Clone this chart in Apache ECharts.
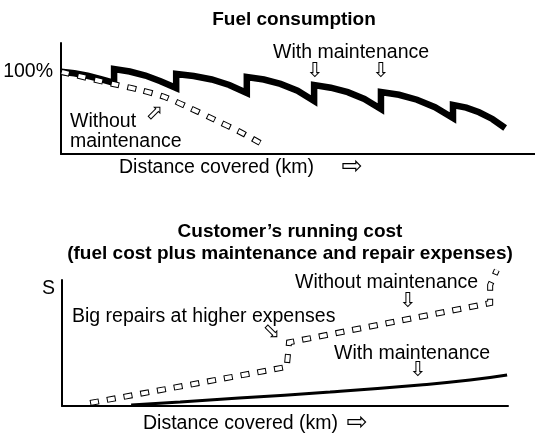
<!DOCTYPE html>
<html>
<head>
<meta charset="utf-8">
<style>
  html, body { margin: 0; padding: 0; background: #fff; }
  #chart { width: 535px; height: 433px; }
</style>
<script src="https://cdn.jsdelivr.net/npm/echarts@6/dist/echarts.min.js"></script>
</head>
<body>
<div id="chart"></div>
<script>
// Fuel consumption (% of new) against distance, with periodic maintenance:
// each service lifts efficiency back up, giving a sawtooth.
const fuelWithX = [
  0, 2.8, 5.6, 8.4, 11.2,
  11.2, 14.5, 17.8, 21.0, 24.3,
  24.3, 28.0, 31.8, 35.5, 39.2,
  39.2, 42.8, 46.3, 49.9, 53.4,
  53.4, 56.9, 60.5, 64.0, 67.5,
  67.5, 71.3, 75.1, 78.9, 82.7,
  82.7, 85.5, 88.2, 91.0, 93.7
];
const fuelWithY = [
  100, 98.2, 95.2, 91.2, 86.4,
  103.4, 100.3, 95.4, 88.6, 80.3,
  97.3, 94.8, 90.6, 84.0, 74.2,
  93.6, 90.6, 85.2, 77.0, 64.5,
  83.9, 80.6, 75.2, 67.0, 54.7,
  75.4, 72.0, 66.0, 57.0, 43.8,
  59.6, 56.4, 50.8, 42.6, 31.6
];

// Fuel consumption without maintenance: steady decline.
const fuelWithoutX = [0, 11.0, 16.7, 21.9, 27.2, 32.5, 37.8, 42.0];
const fuelWithoutY = [100, 85.1, 77.8, 69.3, 55.9, 41.4, 26.8, 13.4];

// Customer's running cost without maintenance, with the jumps for big repairs.
const costWithoutX = [6.3, 50.4, 50.9, 96.0, 96.0, 97.5];
const costWithoutY = [2.4, 31.0, 50.5, 81.7, 96.0, 108];

// Customer's running cost with maintenance.
const costWithX = [15.5, 26.5, 39.7, 60.1, 80.3, 91.5, 99.8];
const costWithY = [0.8, 3.2, 6.3, 11.1, 16.7, 20.6, 24.6];

// Tick labels on the two vertical axes
const fuelTickValues = [100];
const fuelTickFormat = '{value}%';
const costTickValues = [93];
const costTickText = 'S';

const FONT = 'Liberation Sans, Arial, Helvetica, sans-serif';
const ARROW_FONT = 'DejaVu Sans, sans-serif';
const TEXT_SIZE = 19.5;

const pairs = (xs, ys) => xs.map((x, i) => [x, ys[i]]);

const chart = echarts.init(document.getElementById('chart'), null, { renderer: 'canvas' });

const axisLineStyle = { show: true, onZero: false, lineStyle: { color: '#000', width: 2 } };

function xAxisFor(gridIndex) {
  return {
    type: 'value', gridIndex, min: 0, max: 100,
    axisLine: axisLineStyle, axisTick: { show: false },
    axisLabel: { show: false }, splitLine: { show: false }
  };
}

// hollow "box" dashes: a wide black dash with a narrower white dash inside
function hollowDash(name, data, xAxisIndex, smooth) {
  return [
    {
      name, type: 'line', xAxisIndex, yAxisIndex: xAxisIndex, data, smooth,
      symbol: 'none', clip: false, silent: true, z: 3,
      lineStyle: { color: '#000', width: 6, type: [9, 8], cap: 'butt', join: 'miter' }
    },
    {
      name: name + ' inner', type: 'line', xAxisIndex, yAxisIndex: xAxisIndex, data, smooth,
      symbol: 'none', clip: false, silent: true, z: 4,
      lineStyle: { color: '#fff', width: 4, type: [7, 10], dashOffset: -1, cap: 'butt', join: 'miter' }
    }
  ];
}

function label(text, x, y, extra) {
  return Object.assign({
    type: 'text', x, y, silent: true,
    style: {
      text, font: TEXT_SIZE + 'px ' + FONT, fill: '#000', lineHeight: 20,
      textAlign: 'left', textVerticalAlign: 'middle'
    }
  }, extra || {});
}

function arrow(glyph, x, y, rotation, size) {
  return {
    type: 'text', x, y, rotation: rotation || 0, silent: true,
    style: {
      text: glyph, font: (size || 21) + 'px ' + ARROW_FONT, fill: '#000',
      textAlign: 'center', textVerticalAlign: 'middle'
    }
  };
}

function title(text, x, y) {
  return {
    type: 'text', x, y, silent: true,
    style: { text, font: 'bold 19px ' + FONT, fill: '#000', textAlign: 'center', textVerticalAlign: 'middle' }
  };
}

chart.setOption({
  animation: false,
  backgroundColor: '#fff',
  grid: [
    { left: 61, top: 43, right: 0, bottom: 279 },
    { left: 62, top: 280, right: 27, bottom: 27 }
  ],
  xAxis: [xAxisFor(0), xAxisFor(1)],
  yAxis: [
    {
      type: 'value', gridIndex: 0, min: 0, max: 135,
      axisLine: axisLineStyle, axisTick: { show: false }, splitLine: { show: false },
      axisLabel: {
        show: true, customValues: fuelTickValues, formatter: fuelTickFormat,
        margin: 8, fontSize: TEXT_SIZE, fontFamily: FONT, color: '#000'
      }
    },
    {
      type: 'value', gridIndex: 1, min: 0, max: 100,
      axisLine: axisLineStyle, axisTick: { show: false }, splitLine: { show: false },
      axisLabel: {
        show: true, customValues: costTickValues, formatter: () => costTickText,
        margin: 7, fontSize: TEXT_SIZE, fontFamily: FONT, color: '#000'
      }
    }
  ],
  series: [
    {
      name: 'With maintenance', type: 'line', xAxisIndex: 0, yAxisIndex: 0,
      data: pairs(fuelWithX, fuelWithY), symbol: 'none', silent: true, z: 2,
      lineStyle: { color: '#000', width: 6.5, join: 'miter', cap: 'butt' }
    },
    ...hollowDash('Without maintenance', pairs(fuelWithoutX, fuelWithoutY), 0, 0.3),
    ...hollowDash('Without maintenance (cost)', pairs(costWithoutX, costWithoutY), 1, false),
    {
      name: 'With maintenance (cost)', type: 'line', xAxisIndex: 1, yAxisIndex: 1,
      data: pairs(costWithX, costWithY), symbol: 'none', smooth: true, silent: true, z: 2,
      lineStyle: { color: '#000', width: 3 }
    }
  ],
  graphic: [
    title('Fuel consumption', 294, 20),
    label('With maintenance', 273, 53),
    arrow('\u21E9', 315, 72),
    arrow('\u21E9', 381, 72),
    label('Without\nmaintenance', 70, 132),
    arrow('\u21E7', 153, 114, -Math.PI / 4),
    label('Distance covered (km)', 119, 168),
    arrow('\u21E8', 352, 167, 0, 25),

    title('Customer\u2019s running cost', 290, 232),
    title('(fuel cost plus maintenance and repair expenses)', 290, 254),
    label('Without maintenance', 295, 283),
    arrow('\u21E9', 408, 302),
    label('Big repairs at higher expenses', 72, 317),
    arrow('\u21E9', 273, 333, Math.PI / 4),
    label('With maintenance', 334, 354),
    arrow('\u21E9', 418, 371),
    label('Distance covered (km)', 143, 424),
    arrow('\u21E8', 357, 423, 0, 25)
  ]
});
</script>
</body>
</html>
